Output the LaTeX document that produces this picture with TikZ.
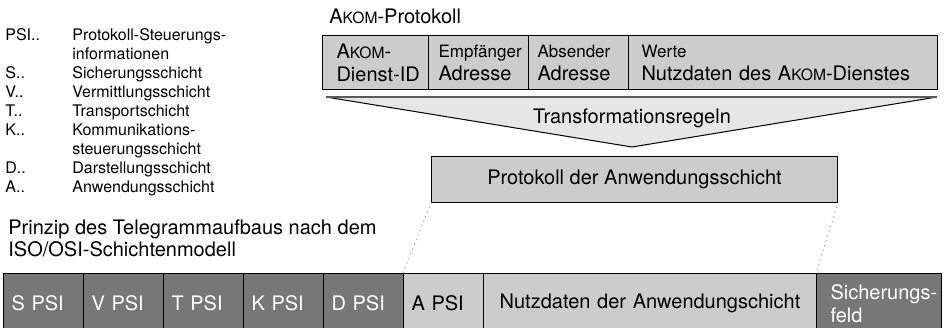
\documentclass[tikz,border=0pt]{standalone}
\usepackage{fontspec}
\setmainfont{TeX Gyre Heros}
\usepackage{graphicx}

\definecolor{zellgrau}{HTML}{CCCCCC}
\definecolor{trichter}{HTML}{E6E6E6}
\definecolor{psidunkel}{HTML}{777777}
\definecolor{randgrau}{HTML}{5A5A5A}

\newcommand{\akom}{A\scalebox{0.78}{KOM}}
\newcommand{\klein}{\fontsize{8.5}{10}\selectfont}
\hyphenpenalty=10000
\exhyphenpenalty=10000

\begin{document}
\begin{tikzpicture}[x=0.5pt,y=-0.5pt,
  zelle/.style={draw=black,line width=0.5pt,fill=zellgrau,anchor=north west,
    inner ysep=0pt,align=left,font=\fontsize{10}{11.5}\selectfont},
  kopfzelle/.style={zelle,minimum height=27pt},
  psizelle/.style={zelle,fill=psidunkel,text=white,minimum height=30pt,
    inner xsep=4pt,text width=32pt},
  txt/.style={inner sep=0pt,font=\fontsize{10}{11.5}\selectfont}]
\useasboundingbox (0,0) rectangle (947,327);

% Legende
\node[anchor=base west,inner sep=0pt,font=\fontsize{8}{9.5}\selectfont] (legende) at (5,40)
  {\begin{tabular}[t]{@{}p{33.5pt}@{}l@{}}
  PSI.. & Protokoll-Steuerungs-\\
        & informationen\\
  S..   & Sicherungsschicht\\
  V..   & Vermittlungsschicht\\
  T..   & Transportschicht\\
  K..   & Kommunikations-\\
        & steuerungsschicht\\
  D..   & Darstellungsschicht\\
  A..   & Anwendungsschicht
  \end{tabular}};

% AKOM-Protokoll
\node[txt,anchor=base west] (akomtitel) at (329,23) {\akom-Protokoll};
\node[kopfzelle,inner xsep=7pt,text width=39pt] (dienstid) at (322,35) {\akom-\\Dienst-ID};
\node[kopfzelle,inner xsep=5pt,text width=40pt] (empf) at (428,35) {{\klein Empfänger}\\Adresse};
\node[kopfzelle,inner xsep=4.5pt,text width=41pt] (abs) at (528,35) {{\klein Absender}\\Adresse};
\node[kopfzelle,inner xsep=6.5pt,text width=141.5pt] (werte) at (628,35) {{\klein Werte}\\Nutzdaten des \akom-Dienstes};

% Trichter
\coordinate (tl) at (326,97);
\coordinate (tr) at (937,97);
\coordinate (tspitze) at (632,147);
\fill[trichter] (tl) -- (tr) -- (tspitze) -- cycle;
\draw[line width=0.5pt] (tl) -- (tspitze) -- (tr);
\draw[randgrau,line width=1pt] (tl) -- (tr);
\node[txt,anchor=base] (regeln) at (632,123) {Transformationsregeln};

\node[zelle,minimum width=203pt,minimum height=23pt,align=center] (anwproto) at (431,156)
  {Protokoll der Anwendungsschicht};

% Telegrammaufbau
\node[txt,anchor=base west,align=left,font=\fontsize{10}{9.5}\selectfont] (prinzip) at (8,256)
  {Prinzip des Telegrammaufbaus nach dem\\ISO/OSI-Schichtenmodell};

\foreach \l [count=\i from 0] in {S,V,T,K,D}
  \node[psizelle] (psi\l) at (3+80*\i,273) {\l\ PSI};
\node[psizelle,fill=zellgrau,text=black] (psiA) at (403,273) {A PSI};
\node[zelle,minimum height=30pt,text width=159.5pt,inner xsep=3.5pt,align=center] (nutzdaten) at (483,273)
  {Nutzdaten der Anwendungschicht};
\node[psizelle,inner xsep=7pt,text width=48.5pt] (sichfeld) at (816,273) {Sicherungs-\\feld};

\draw[gray,dash pattern=on 0.5pt off 2pt,shorten <=2pt] (anwproto.south west) -- (psiA.north west);
\draw[gray,dash pattern=on 0.5pt off 2pt,shorten <=2pt] (anwproto.south east) -- (sichfeld.north west);
\end{tikzpicture}
\end{document}
